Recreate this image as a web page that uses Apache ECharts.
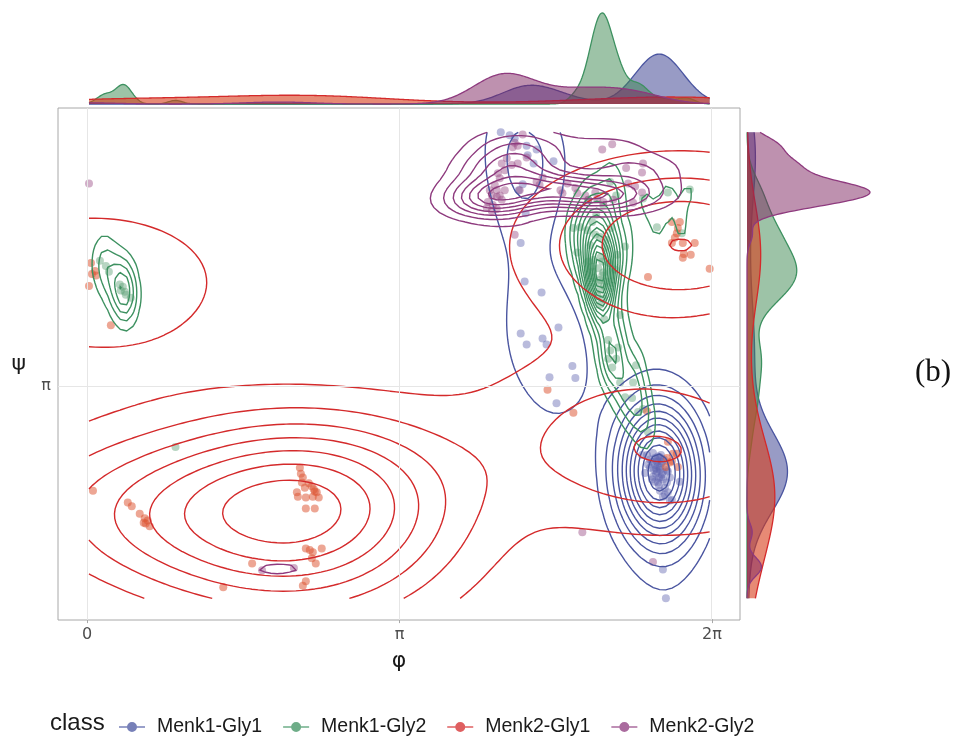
<!DOCTYPE html>
<html><head><meta charset="utf-8">
<script src="https://cdn.jsdelivr.net/npm/echarts@6/dist/echarts.min.js"></script>
<style>html,body{margin:0;padding:0;background:#fff}#c{width:956px;height:736px}</style>
</head><body><div id="c"></div>
<script>
// ---------- data (phi, psi in radians) ----------
const classes = ['Menk1-Gly1','Menk1-Gly2','Menk2-Gly1','Menk2-Gly2'];
const phiTicks = [0, Math.PI, 2*Math.PI];
const phiTickLabels = ['0','π','2π'];
const psiTicks = [Math.PI];
const psiTickLabels = ['π'];

const menk1Gly1Phi = [4.16,4.25,4.30,4.42,4.52,4.43,4.49,4.69,4.38,4.34,4.41,4.36,4.40,4.57,4.74,4.36,4.42,4.58,4.62,4.88,4.91,4.65,4.72,
  5.63,5.69,5.74,5.66,5.71,5.76,5.73,5.78,5.69,5.79,5.74,5.83,5.81,5.79,5.88,5.96,5.61,5.66,5.78,5.73,5.58,5.86,5.81,5.79,5.82,5.76,5.72,5.77,5.84,5.68,
  5.71,5.77,5.64,5.83,5.75,5.68,5.86,5.80,5.72,5.76,5.84,
  5.74,5.70,5.78,5.75,5.73,5.79,5.71,5.76];
const menk1Gly1Psi = [6.56,6.52,6.48,6.38,6.33,6.25,6.14,6.17,5.86,5.78,5.47,5.07,4.55,4.40,3.93,3.85,3.70,3.78,3.70,3.41,3.25,3.26,2.91,
  2.21,2.24,2.19,2.15,2.08,2.05,1.99,1.95,1.92,1.88,1.84,1.84,1.77,1.65,1.61,1.85,1.97,2.04,2.12,2.12,2.21,1.60,1.68,0.67,0.28,2.01,2.03,1.91,1.99,2.12,
  2.17,2.21,2.08,2.01,1.80,1.88,1.91,2.15,1.96,1.73,1.71,
  2.06,2.01,2.10,1.90,2.14,1.98,1.85,2.18];

const menk1Gly2Phi = [0.13,0.19,0.22,0.33,0.36,0.38,0.39,0.44,0.34,0.89,5.84,6.06,5.73,5.98,5.59,5.26,4.89,4.96,5.03,5.11,5.16,5.41,4.93,5.09,5.19,5.16,5.06,
  5.14,5.18,5.14,5.20,5.16,5.13,5.19,5.16,5.18,5.08,5.31,5.16,5.33,5.04,5.22,5.12,5.19,5.08,5.27,5.04,5.32,5.36,5.20,
  5.24,5.26,5.32,5.24,5.34,5.28,5.52,5.36,5.49,5.41,5.48,5.59,5.54,5.64,
  5.10,5.22,5.07,5.25,5.21];
const menk1Gly2Psi = [4.83,4.76,4.68,4.51,4.48,4.41,4.37,4.33,4.43,2.32,5.75,5.79,5.28,5.20,5.67,5.89,5.27,5.28,5.24,5.18,5.15,5.02,4.94,4.84,4.67,4.57,5.04,
  4.73,4.63,4.53,4.49,4.44,4.36,4.32,4.24,4.82,4.68,4.71,4.87,4.91,4.82,5.11,5.45,5.58,5.35,5.27,5.65,5.71,4.10,4.04,
  3.76,3.62,3.51,3.51,3.66,3.39,3.42,3.19,3.19,2.99,2.98,2.83,2.79,2.52,
  4.60,4.55,4.75,4.80,5.00];

const menk2Gly1Phi = [0.04,0.05,0.09,0.08,0.02,0.24,0.06,0.41,0.45,0.53,0.58,0.61,0.57,0.63,0.59,
  2.14,2.15,2.17,2.16,2.19,2.11,2.12,2.20,2.26,2.29,2.31,2.33,2.27,2.20,2.29,2.23,2.28,
  2.20,2.24,2.27,2.36,2.26,2.30,1.66,2.20,2.17,1.37,
  5.88,5.96,5.94,5.93,5.91,5.88,5.99,6.11,6.00,5.99,6.07,6.26,5.64,
  4.63,4.89,5.63,5.84,5.89,5.93,5.83,5.86,5.94,5.82,5.88];
const menk2Gly1Psi = [4.80,4.65,4.63,4.69,4.49,3.96,1.73,1.57,1.52,1.42,1.36,1.33,1.30,1.25,1.29,
  2.04,1.96,1.91,1.84,1.77,1.71,1.65,1.64,1.79,1.72,1.71,1.64,1.65,1.49,1.49,1.83,1.75,
  0.95,0.93,0.90,0.95,0.82,0.75,0.75,0.51,0.45,0.43,
  5.35,5.35,5.27,5.20,5.14,5.07,5.07,5.07,4.92,4.87,4.91,4.72,4.61,
  3.09,2.78,2.80,2.39,2.23,2.23,2.17,2.11,2.05,2.05,2.13];

const menk2Gly2Phi = [4.38,4.30,4.33,4.28,4.42,4.22,4.17,4.27,4.33,4.13,4.20,4.15,4.10,4.05,4.12,4.20,4.07,4.12,4.03,4.08,4.02,4.12,4.07,4.17,
  4.58,4.52,4.55,4.30,4.83,4.76,4.91,4.93,
  5.18,5.28,5.59,5.58,5.42,5.44,5.51,5.58,5.49,5.04,5.13,5.19,5.29,4.78,
  0.02,1.76,2.08,5.69,4.98,4.15,4.35,5.01,5.11];
const menk2Gly2Psi = [6.53,6.42,6.38,6.36,6.22,6.21,6.14,6.12,6.14,6.01,6.05,5.94,5.85,5.78,5.78,5.78,5.71,5.69,5.62,5.58,5.54,5.53,5.50,5.65,
  5.95,5.89,5.85,5.18,5.87,5.78,5.81,5.74,
  6.33,6.40,6.14,6.02,6.08,5.87,5.83,5.75,5.61,5.65,5.66,5.62,5.65,5.74,
  5.87,0.66,0.69,0.77,1.17,5.71,5.78,5.71,5.75];

const phiByClass = [menk1Gly1Phi, menk1Gly2Phi, menk2Gly1Phi, menk2Gly2Phi];
const psiByClass = [menk1Gly1Psi, menk1Gly2Psi, menk2Gly1Psi, menk2Gly2Psi];

// ---------- styles ----------
const lineColors  = ['#4a55a0','#3d9160','#d42a2b','#8e3a7e'];
const pointColors = ['rgba(95,100,175,0.55)','rgba(90,160,115,0.55)','rgba(220,85,50,0.65)','rgba(150,70,130,0.55)'];
const fillColors  = ['rgba(50,55,140,0.5)','rgba(60,135,80,0.5)','rgba(215,60,25,0.6)','rgba(125,35,95,0.5)'];

// ---------- statistics (as ggplot does) ----------
function sd(a){const m=a.reduce((s,v)=>s+v,0)/a.length;return Math.sqrt(a.reduce((s,v)=>s+(v-m)*(v-m),0)/(a.length-1));}
function quant(s,p){const h=(s.length-1)*p,lo=Math.floor(h),hi=Math.min(lo+1,s.length-1);return s[lo]+(h-lo)*(s[hi]-s[lo]);}
function iqr(a){const s=a.slice().sort((p,q)=>p-q);return quant(s,0.75)-quant(s,0.25);}
function bwNrd(a){return 4*1.06*Math.min(sd(a),iqr(a)/1.34)*Math.pow(a.length,-0.2);}
function bwNrd0(a){let lo=Math.min(sd(a),iqr(a)/1.34);if(!(lo>0))lo=sd(a)||1;return 0.9*lo*Math.pow(a.length,-0.2);}
function gauss(u){return Math.exp(-0.5*u*u)/Math.sqrt(2*Math.PI);}
function pretty(lo,hi,n){
  const h=1.5,h5=0.5+1.5*h;const cell=(hi-lo)/n;
  const base=Math.pow(10,Math.floor(Math.log10(cell)));let unit=base;
  if(2*base-cell<h*(cell-unit)){unit=2*base;if(5*base-cell<h5*(cell-unit)){unit=5*base;if(10*base-cell<h*(cell-unit))unit=10*base;}}
  const ns=Math.floor(lo/unit+1e-7),nu=Math.ceil(hi/unit-1e-7);const out=[];for(let k=ns;k<=nu;k++)out.push(k*unit);return out;
}
const allPhi=[].concat(...phiByClass), allPsi=[].concat(...psiByClass);
const xr=[Math.min(...allPhi),Math.max(...allPhi)], yr=[Math.min(...allPsi),Math.max(...allPsi)];
const NG=100;
const gx=[],gy=[];for(let i=0;i<NG;i++){gx.push(xr[0]+i*(xr[1]-xr[0])/(NG-1));gy.push(yr[0]+i*(yr[1]-yr[0])/(NG-1));}

function kde2d(xs,ys){
  const hx=bwNrd(xs)/4,hy=bwNrd(ys)/4,n=xs.length;
  const Kx=gx.map(g=>xs.map(x=>gauss((g-x)/hx)/hx));
  const Ky=gy.map(g=>ys.map(y=>gauss((g-y)/hy)/hy));
  const z=[];
  for(let i=0;i<NG;i++){const row=[];for(let j=0;j<NG;j++){let s=0;for(let k=0;k<n;k++)s+=Kx[i][k]*Ky[j][k];row.push(s/n);}z.push(row);}
  return z;
}
function isolines(z,level){
  const pts=new Map(),segs=[];
  function ptH(i,j){const k='h'+i+'_'+j;if(!pts.has(k)){const t=(level-z[i][j])/(z[i+1][j]-z[i][j]);pts.set(k,[gx[i]+t*(gx[i+1]-gx[i]),gy[j]]);}return k;}
  function ptV(i,j){const k='v'+i+'_'+j;if(!pts.has(k)){const t=(level-z[i][j])/(z[i][j+1]-z[i][j]);pts.set(k,[gx[i],gy[j]+t*(gy[j+1]-gy[j])]);}return k;}
  for(let i=0;i<NG-1;i++)for(let j=0;j<NG-1;j++){
    const a=z[i][j]>=level,b=z[i+1][j]>=level,c=z[i+1][j+1]>=level,d=z[i][j+1]>=level;
    const e=[];
    if(a!==b)e.push('B');if(b!==c)e.push('R');if(c!==d)e.push('T');if(d!==a)e.push('L');
    if(e.length===0)continue;
    const key={B:()=>ptH(i,j),R:()=>ptV(i+1,j),T:()=>ptH(i,j+1),L:()=>ptV(i,j)};
    if(e.length===2){segs.push([key[e[0]](),key[e[1]]()]);}
    else{
      const ctr=(z[i][j]+z[i+1][j]+z[i+1][j+1]+z[i][j+1])/4>=level;
      if(a===ctr){segs.push([key.B(),key.R()]);segs.push([key.T(),key.L()]);}
      else{segs.push([key.L(),key.B()]);segs.push([key.R(),key.T()]);}
    }
  }
  const adj=new Map();segs.forEach((s,idx)=>{s.forEach(k=>{if(!adj.has(k))adj.set(k,[]);adj.get(k).push(idx);});});
  const used=new Array(segs.length).fill(false);const lines=[];
  function extend(line){
    while(true){const last=line[line.length-1];const cand=(adj.get(last)||[]).find(ix=>!used[ix]);if(cand===undefined)break;
      used[cand]=true;const s=segs[cand];line.push(s[0]===last?s[1]:s[0]);}
  }
  segs.forEach((s,idx)=>{if(used[idx])return;used[idx]=true;const line=[s[0],s[1]];extend(line);line.reverse();extend(line);lines.push(line.map(k=>pts.get(k)));});
  return lines;
}
function density1d(vals,grid){const bw=bwNrd0(vals),n=vals.length;return grid.map(g=>{let s=0;for(const v of vals)s+=gauss((g-v)/bw);return s/(n*bw);});}

// ---------- build series ----------
const series=[];
series.push({type:'scatter',data:[],xAxisIndex:0,yAxisIndex:0,silent:true,z:1,
  markLine:{silent:true,symbol:['none','none'],label:{show:false},animation:false,
    lineStyle:{color:'#e6e6e6',width:1,type:'solid'},
    data:phiTicks.map(v=>({xAxis:v})).concat(psiTicks.map(v=>({yAxis:v})))}});
classes.forEach((name,c)=>{
  series.push({type:'scatter',name:name,xAxisIndex:0,yAxisIndex:0,z:2,symbolSize:8,
    itemStyle:{color:pointColors[c]},data:phiByClass[c].map((p,i)=>[p,psiByClass[c][i]])});
});
classes.forEach((name,c)=>{
  const z=kde2d(phiByClass[c],psiByClass[c]);
  let zmax=0,zmin=Infinity;z.forEach(r=>r.forEach(v=>{if(v>zmax)zmax=v;if(v<zmin)zmin=v;}));
  const brks=pretty(zmin,zmax,10).filter(b=>b>zmin&&b<zmax);
  const data=[];brks.forEach(b=>isolines(z,b).forEach(l=>data.push({coords:l})));
  series.push({type:'lines',coordinateSystem:'cartesian2d',xAxisIndex:0,yAxisIndex:0,polyline:true,silent:true,z:3,
    lineStyle:{color:lineColors[c],width:1.4,opacity:1},data:data});
});
// marginal densities
const NM=512;const mgx=[],mgy=[];
for(let i=0;i<NM;i++){mgx.push(xr[0]+i*(xr[1]-xr[0])/(NM-1));mgy.push(yr[0]+i*(yr[1]-yr[0])/(NM-1));}
const topD=phiByClass.map(a=>density1d(a,mgx));
const rightD=psiByClass.map(a=>density1d(a,mgy));
const topMax=Math.max(...topD.map(d=>Math.max(...d)));
const rightMax=Math.max(...rightD.map(d=>Math.max(...d)));
classes.forEach((name,c)=>{
  series.push({type:'custom',xAxisIndex:1,yAxisIndex:1,silent:true,z:2,
    data:mgx.map((x,k)=>[x,topD[c][k]]),
    renderItem:(params,api)=>{
      if(params.dataIndex!==0)return null;
      const p=mgx.map((x,k)=>api.coord([x,topD[c][k]]));
      const b0=api.coord([mgx[0],0]),b1=api.coord([mgx[NM-1],0]);
      return {type:'group',children:[
        {type:'polygon',shape:{points:[b0].concat(p,[b1])},style:{fill:fillColors[c],stroke:'none'}},
        {type:'polyline',shape:{points:p},style:{stroke:lineColors[c],lineWidth:1.3,fill:'none'}}]};
    }});
});
classes.forEach((name,c)=>{
  series.push({type:'custom',xAxisIndex:2,yAxisIndex:2,silent:true,z:2,
    data:mgy.map((y,k)=>[rightD[c][k],y]),
    renderItem:(params,api)=>{
      if(params.dataIndex!==0)return null;
      const p=mgy.map((y,k)=>api.coord([rightD[c][k],y]));
      const b0=api.coord([0,mgy[0]]),b1=api.coord([0,mgy[NM-1]]);
      return {type:'group',children:[
        {type:'polygon',shape:{points:[b0].concat(p,[b1])},style:{fill:fillColors[c],stroke:'none'}},
        {type:'polyline',shape:{points:p},style:{stroke:lineColors[c],lineWidth:1.3,fill:'none'}}]};
    }});
});

const xMin=-0.2915,xMax=6.565,yMin=-0.012,yMax=6.888;
const hidden={show:false};
const option={
  animation:false,
  backgroundColor:'#ffffff',
  title:[
    {text:'class',left:45,top:706,textStyle:{fontFamily:'Liberation Sans',fontSize:24,fontWeight:'normal',color:'#1a1a1a'}},
    {text:'(b)',left:910,top:352,textStyle:{fontFamily:'Liberation Serif',fontSize:31,fontWeight:'normal',color:'#111'}}
  ],
  legend:{left:114,top:712,itemWidth:26,itemHeight:10,itemGap:21,
    icon:'path://M0,4.3 L26,4.3 L26,5.7 L0,5.7 Z M13,0 A5,5 0 1 1 12.99,0 Z',
    textStyle:{fontFamily:'Liberation Sans',fontSize:19.5,color:'#1a1a1a',padding:[0,0,0,7]},
    data:classes.map((c,i)=>({name:c,itemStyle:{color:lineColors[i],opacity:0.75}}))},
  grid:[
    {left:58,top:108,width:682,height:512,show:true,borderColor:'#a8a8a8',borderWidth:1,backgroundColor:'transparent'},
    {left:58,top:7,width:682,height:97},
    {left:747,top:108,width:130,height:512}
  ],
  xAxis:[
    {type:'value',gridIndex:0,min:xMin,max:xMax,splitLine:hidden,axisLine:hidden,
      axisTick:{show:true,customValues:phiTicks,length:4,lineStyle:{color:'#a8a8a8'}},
      axisLabel:{customValues:phiTicks,color:'#4d4d4d',fontSize:16,fontFamily:'DejaVu Sans',margin:7,
        formatter:v=>{const i=phiTicks.findIndex(t=>Math.abs(t-v)<1e-6);return i>=0?phiTickLabels[i]:'';}},
      name:'φ',nameLocation:'middle',nameGap:30,nameTextStyle:{fontSize:22,color:'#1a1a1a',fontFamily:'DejaVu Sans'}},
    {type:'value',gridIndex:1,min:xMin,max:xMax,show:false},
    {type:'value',gridIndex:2,min:0,max:rightMax*130/123,show:false}
  ],
  yAxis:[
    {type:'value',gridIndex:0,min:yMin,max:yMax,splitLine:hidden,axisLine:hidden,
      axisTick:{show:true,customValues:psiTicks,length:4,lineStyle:{color:'#a8a8a8'}},
      axisLabel:{customValues:psiTicks,color:'#4d4d4d',fontSize:16,fontFamily:'DejaVu Sans',margin:7,
        formatter:v=>{const i=psiTicks.findIndex(t=>Math.abs(t-v)<1e-6);return i>=0?psiTickLabels[i]:'';}},
      name:'ψ',nameLocation:'middle',nameGap:32,nameRotate:0,nameTextStyle:{fontSize:22,color:'#1a1a1a',fontFamily:'DejaVu Sans'}},
    {type:'value',gridIndex:1,min:0,max:topMax*97/91,show:false},
    {type:'value',gridIndex:2,min:yMin,max:yMax,show:false}
  ],
  series:series
};
const chart=echarts.init(document.getElementById('c'),null,{renderer:'canvas'});
chart.setOption(option);
</script></body></html>
